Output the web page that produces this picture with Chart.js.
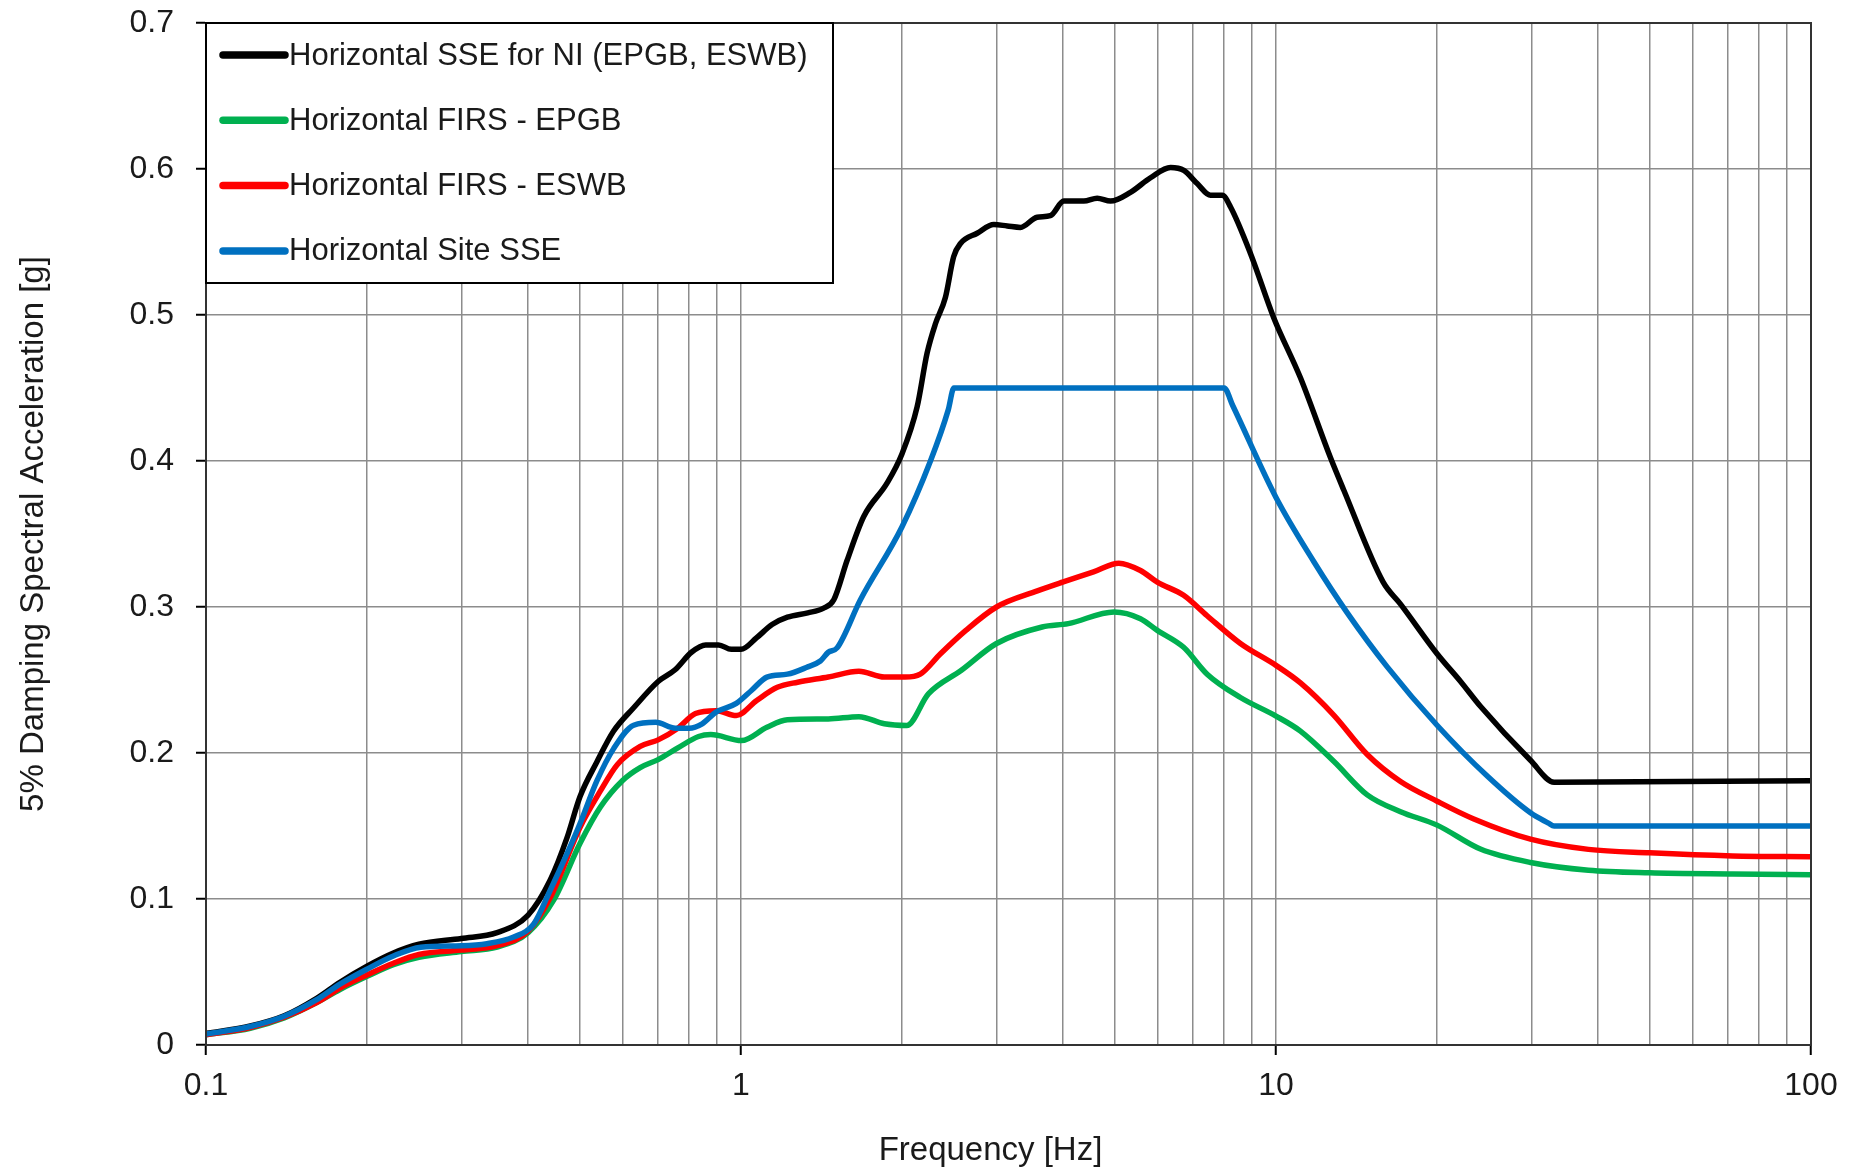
<!DOCTYPE html>
<html>
<head>
<meta charset="utf-8">
<script src="https://cdn.jsdelivr.net/npm/chart.js@4.4.1/dist/chart.umd.min.js"></script>
<style>
body{margin:0;background:#fff}
#wrap{width:1864px;height:1173px}
</style>
</head>
<body>
<div id="wrap"><canvas id="spectraChart" width="1864" height="1173"></canvas></div>
<script>

// Horizontal SSE for NI (EPGB, ESWB)
let sseFreq = [0.1, 0.121, 0.14, 0.161, 0.178, 0.2, 0.224, 0.25, 0.3, 0.35, 0.4, 0.44, 0.473, 0.5, 0.538,
0.578, 0.63, 0.7, 0.753, 0.808, 0.859, 0.908, 0.959, 1.0, 1.07, 1.143, 1.221, 1.333, 1.424, 1.491,
1.579, 1.696, 1.876, 2.0, 2.134, 2.228, 2.309, 2.41, 2.498, 2.572, 2.763, 2.969, 3.145, 3.329, 3.577,
3.787, 4.012, 4.373, 4.632, 4.905, 5.346, 5.827, 6.352, 6.725, 7.124, 7.545, 7.935, 8.223, 8.963, 9.906,
11.11, 12.65, 13.39, 15.86, 17.09, 20.0, 22.13, 24.1, 29.9, 33.1, 100]
let sseAcc = [0.008, 0.013, 0.020, 0.032, 0.043, 0.054, 0.063, 0.069, 0.073, 0.077, 0.089, 0.113, 0.142, 0.170, 0.194,
0.215, 0.231, 0.249, 0.257, 0.269, 0.274, 0.274, 0.271, 0.271, 0.279, 0.288, 0.293, 0.296, 0.299, 0.305,
0.332, 0.362, 0.385, 0.405, 0.437, 0.474, 0.494, 0.512, 0.540, 0.549, 0.556, 0.562, 0.561, 0.560, 0.567,
0.568, 0.578, 0.578, 0.580, 0.578, 0.584, 0.594, 0.601, 0.599, 0.590, 0.582, 0.582, 0.574, 0.542, 0.498,
0.457, 0.402, 0.380, 0.317, 0.302, 0.268, 0.249, 0.232, 0.195, 0.180, 0.181]

// Horizontal FIRS - EPGB
let epgbFreq = [0.1, 0.121, 0.14, 0.161, 0.178, 0.2, 0.224, 0.25, 0.3, 0.35, 0.4, 0.447, 0.5, 0.546, 0.6,
0.648, 0.7, 0.762, 0.833, 0.878, 1.002, 1.118, 1.221, 1.456, 1.661, 1.853, 2.04, 2.24, 2.578, 3.003,
3.655, 4.09, 4.98, 5.58, 6.0, 6.72, 7.435, 8.58, 10, 11.11, 12.82, 14.81, 17.09, 20, 24.1,
29.9, 38.37, 49.9, 71.3, 100]
let epgbAcc = [0.007, 0.0115, 0.0185, 0.029, 0.038, 0.047, 0.055, 0.060, 0.064, 0.067, 0.077, 0.0995, 0.138, 0.163, 0.181,
0.190, 0.1955, 0.2035, 0.2113, 0.2126, 0.2085, 0.2176, 0.2227, 0.2233, 0.2249, 0.220, 0.2188, 0.2405, 0.2565, 0.275,
0.2863, 0.2886, 0.2966, 0.292, 0.284, 0.2724, 0.254, 0.238, 0.2253, 0.215, 0.1943, 0.1713, 0.1598, 0.1506, 0.1342,
0.125, 0.1197, 0.1179, 0.1171, 0.1166]

// Horizontal FIRS - ESWB
let eswbFreq = [0.1, 0.121, 0.14, 0.161, 0.178, 0.2, 0.224, 0.25, 0.3, 0.35, 0.4, 0.44, 0.5, 0.546, 0.587,
0.648, 0.7, 0.762, 0.822, 0.898, 0.98, 1.07, 1.169, 1.276, 1.456, 1.661, 1.853, 2.026, 2.163, 2.36,
2.632, 3.003, 3.58, 3.99, 4.56, 5.085, 5.58, 6.0, 6.72, 7.435, 8.58, 10, 11.11, 12.82, 14.81,
17.09, 20, 23.37, 29.9, 38.37, 49.9, 71.3, 100]
let eswbAcc = [0.007, 0.012, 0.019, 0.029, 0.039, 0.048, 0.056, 0.062, 0.065, 0.068, 0.078, 0.101, 0.149, 0.174, 0.192,
0.2045, 0.209, 0.217, 0.227, 0.229, 0.2256, 0.236, 0.245, 0.2485, 0.252, 0.256, 0.252, 0.252, 0.254, 0.268,
0.284, 0.300, 0.311, 0.317, 0.324, 0.330, 0.325, 0.317, 0.308, 0.294, 0.275, 0.260, 0.248, 0.226, 0.199,
0.1805, 0.167, 0.155, 0.141, 0.134, 0.1316, 0.1295, 0.129]

// Horizontal Site SSE
let siteFreq = [0.1, 0.121, 0.14, 0.161, 0.178, 0.2, 0.224, 0.252, 0.3, 0.335, 0.376, 0.41, 0.44, 0.473, 0.5,
0.538, 0.578, 0.63, 0.693, 0.754, 0.8, 0.846, 0.898, 0.98, 1.047, 1.118, 1.221, 1.333, 1.407, 1.456,
1.512, 1.672, 2.0, 2.26, 2.44, 2.5, 8.0, 8.3, 10, 11.77, 13.59, 16.14, 20, 24.85, 29.9, 32.3, 33.1, 100]
let siteAcc = [0.0075, 0.0127, 0.0197, 0.031, 0.0417, 0.052, 0.061, 0.067, 0.068, 0.0694, 0.074, 0.083, 0.106, 0.131, 0.1515,
0.181, 0.203, 0.219, 0.221, 0.217, 0.217, 0.220, 0.228, 0.234, 0.243, 0.252, 0.254, 0.259, 0.263, 0.269,
0.272, 0.305, 0.355, 0.400, 0.435, 0.45, 0.45, 0.438, 0.375, 0.331, 0.296, 0.259, 0.219, 0.184, 0.159, 0.152, 0.15, 0.15]

let decades = [0.1, 1, 10, 100]
let multipliers = [1, 2, 3, 4, 5, 6, 7, 8, 9]

let fontFamily = "'Liberation Sans', Arial, sans-serif"
let textColor = "#1a1a1a"
let gridColor = "#8c8c8c"


function toPoints(freq, acc){

return freq.map((f,i)=>({x:f, y:acc[i]}))

}


function freqTicks(){

let list = []

decades.forEach(d=>{
if(d==100){ list.push(100); return }
multipliers.forEach(m=>list.push(+(m*d).toPrecision(3)))
})

return list

}


// grey frame round the plot, boxed legend in the top left corner, x axis title
const frameLegend = {

id:"frameLegend",

afterDraw(chart, args, opts){

let ctx = chart.ctx
let a = chart.chartArea

ctx.save()

ctx.strokeStyle = "#333"
ctx.lineWidth = 2
ctx.strokeRect(a.left, a.top, a.right - a.left, a.bottom - a.top)

ctx.fillStyle = "#fff"
ctx.fillRect(a.left, a.top, opts.width, opts.height)
ctx.strokeStyle = "#000"
ctx.strokeRect(a.left, a.top, opts.width, opts.height)

ctx.font = opts.fontSize + "px " + fontFamily
ctx.textBaseline = "middle"
ctx.lineCap = "round"

chart.data.datasets.forEach((ds,i)=>{

let y = a.top + opts.firstRow + i*opts.rowGap

ctx.strokeStyle = ds.borderColor
ctx.lineWidth = opts.sampleWidth
ctx.beginPath()
ctx.moveTo(a.left + opts.lineStart, y)
ctx.lineTo(a.left + opts.lineEnd, y)
ctx.stroke()

ctx.fillStyle = textColor
ctx.fillText(ds.label, a.left + opts.textStart, y + 1)

})

ctx.font = opts.titleSize + "px " + fontFamily
ctx.textAlign = "center"
ctx.fillText(opts.xTitle, (a.left + a.right)/2 + opts.xTitleShift, opts.xTitleY)

ctx.restore()

}

}


function series(label, freq, acc, color, order){

return {
label:label,
data:toPoints(freq, acc),
borderColor:color,
backgroundColor:color,
borderWidth:5.5,
pointRadius:0,
fill:false,
cubicInterpolationMode:"monotone",
borderJoinStyle:"round",
order:order
}

}


let spectraChart = new Chart(document.getElementById("spectraChart"),{

type:"line",

data:{

datasets:[
series("Horizontal SSE for NI (EPGB, ESWB)", sseFreq, sseAcc, "#000000", 4),
series("Horizontal FIRS - EPGB", epgbFreq, epgbAcc, "#00b050", 3),
series("Horizontal FIRS - ESWB", eswbFreq, eswbAcc, "#ff0000", 2),
series("Horizontal Site SSE", siteFreq, siteAcc, "#0070c0", 1)
]

},

options:{

responsive:false,
animation:false,
events:[],

layout:{ padding:{ left:0, top:23, right:53, bottom:0 } },

plugins:{
legend:{ display:false },
tooltip:{ enabled:false },
frameLegend:{
width:627, height:260, firstRow:32, rowGap:65.3, lineStart:17, lineEnd:79, textStart:83,
fontSize:31, sampleWidth:7.5,
xTitle:"Frequency [Hz]", titleSize:33, xTitleShift:-18, xTitleY:1151
}
},

scales:{

x:{
type:"logarithmic",
min:0.1,
max:100,
afterBuildTicks:(scale)=>{
scale.ticks = freqTicks().map(v=>({value:v, major:decades.includes(v)}))
},
afterFit:(scale)=>{ scale.height = 128 },
ticks:{
autoSkip:false,
maxRotation:0,
padding:12,
color:textColor,
font:{ family:fontFamily, size:32 },
callback:(v)=> decades.includes(v) ? String(v) : ""
},
grid:{
color:gridColor,
lineWidth:1.5,
tickLength:10,
tickWidth:2,
tickColor:(c)=> c.tick && decades.includes(c.tick.value) ? "#000" : "rgba(0,0,0,0)"
},
border:{ color:"#000", width:2 },
title:{ display:false }
},

y:{
min:0,
max:0.7,
afterFit:(scale)=>{
scale.width = 206
scale.paddingTop = 0
scale.paddingBottom = 0
},
ticks:{
stepSize:0.1,
padding:22,
color:textColor,
font:{ family:fontFamily, size:32 },
callback:(v)=> v==0 ? "0" : v.toFixed(1)
},
grid:{
color:gridColor,
lineWidth:1.5,
tickLength:10,
tickWidth:2,
tickColor:"#000"
},
border:{ color:"#000", width:2 },
title:{
display:true,
text:"5% Damping Spectral Acceleration [g]",
color:textColor,
font:{ family:fontFamily, size:33 },
padding:{ top:14, bottom:0 }
}
}

}

},

plugins:[frameLegend]

})

</script>
</body>
</html>
